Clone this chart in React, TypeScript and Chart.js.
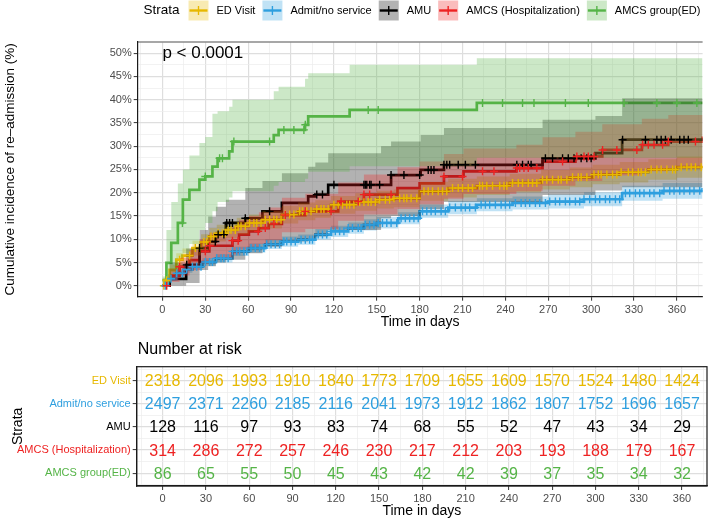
import { useEffect, useRef } from "react"
import { Chart, registerables } from "chart.js"
import type { Plugin } from "chart.js"

Chart.register(...registerables)

const FONT = "'Liberation Sans', Arial, Helvetica, sans-serif"

const strata = ["ED Visit", "Admit/no service", "AMU", "AMCS (Hospitalization)", "AMCS group(ED)"]
const strataColors = ["#E7B800", "#2E9FDF", "#000000", "#EE2222", "#55B447"]
const pValueText = "p < 0.0001"

// ED Visit
const edTimes = [0, 1.6, 5, 9.7, 14, 21, 27, 32.8, 38, 44.4, 52, 60.5, 70, 83.6, 95, 107, 118, 135, 150, 162, 180, 200, 220, 243, 265, 285, 301, 320, 340, 360, 378]
const edEst = [0, 1.2, 3.4, 5.6, 6.5, 8.1, 9.4, 10.6, 11.3, 12, 12.8, 13.5, 14.2, 15.3, 16, 16.5, 17.4, 18, 18.5, 18.8, 20.3, 21, 21.5, 22.1, 22.8, 23.3, 23.9, 24.4, 25, 25.5, 25.8]
const edLower = [0, 0.6, 2.3, 4.2, 5.0, 6.5, 7.7, 8.8, 9.5, 10.2, 11, 11.7, 12.3, 13.4, 14.1, 14.6, 15.5, 16.1, 16.6, 16.9, 18.3, 19, 19.5, 20.1, 20.7, 21.2, 21.8, 22.2, 22.8, 23.2, 23.5]
const edUpper = [0, 1.8, 4.5, 7.0, 8.0, 9.7, 11.1, 12.4, 13.1, 13.8, 14.6, 15.3, 16.1, 17.2, 17.9, 18.4, 19.3, 19.9, 20.4, 20.7, 22.3, 23, 23.5, 24.1, 24.9, 25.4, 26, 26.6, 27.2, 27.8, 28.1]
const edCensor = [1, 3, 12, 19, 23, 26, 29, 31, 34, 36, 39, 42, 44, 46, 48, 51, 53, 55, 58, 61, 64, 66, 69, 72, 75, 78, 80, 83, 86, 89, 92, 96, 98, 101, 104, 108, 111, 113, 116, 120, 123, 126, 129, 131, 134, 138, 141, 144, 146, 149, 152, 156, 159, 162, 166, 169, 171, 174, 178, 183, 186, 189, 193, 196, 199, 203, 207, 210, 214, 217, 222, 224, 227, 231, 236, 239, 241, 245, 249, 252, 256, 259, 262, 266, 269, 273, 277, 279, 283, 287, 291, 293, 297, 302, 305, 307, 311, 315, 318, 321, 326, 329, 333, 335, 338, 342, 346, 349, 353, 357, 359, 363, 367, 370, 373, 377]

// Admit/no service
const adTimes = [0, 4, 9.7, 15, 21, 28, 37.4, 49, 60.5, 72, 83.6, 95, 107, 118, 130, 141, 150, 165, 180, 200, 220, 245, 270, 295, 321.7, 350, 378]
const adEst = [0, 1.5, 2.7, 3.5, 4.1, 5.1, 5.9, 7.4, 8.1, 8.9, 9.5, 9.9, 11, 11.7, 12.4, 13.1, 13.5, 14.5, 16, 16.8, 17.4, 17.8, 18.1, 18.6, 19.9, 20.4, 21]
const adLower = [0, 1.0, 2.0, 2.8, 3.4, 4.3, 5.0, 6.4, 7.1, 7.9, 8.4, 8.8, 9.9, 10.5, 11.2, 11.9, 12.3, 13.2, 14.6, 15.4, 16, 16.4, 16.6, 17.1, 18.3, 18.7, 19.3]
const adUpper = [0, 2.0, 3.4, 4.3, 4.9, 5.9, 6.8, 8.4, 9.1, 10, 10.6, 11, 12.2, 12.9, 13.6, 14.3, 14.8, 15.8, 17.4, 18.2, 18.8, 19.2, 19.6, 20.1, 21.5, 22.1, 22.7]
const adCensor = [2, 6, 10, 14, 17, 21, 24, 27, 30, 33, 35, 38, 41, 43, 46, 49, 52, 54, 57, 59, 62, 65, 68, 71, 73, 76, 79, 82, 85, 87, 90, 93, 97, 100, 103, 105, 109, 112, 115, 118, 121, 124, 127, 130, 133, 137, 139, 142, 145, 148, 151, 154, 157, 160, 164, 167, 170, 173, 176, 179, 182, 185, 188, 191, 195, 198, 201, 205, 209, 212, 215, 219, 223, 226, 229, 233, 237, 240, 243, 247, 251, 254, 257, 261, 264, 268, 271, 275, 278, 282, 285, 289, 292, 295, 299, 303, 306, 310, 313, 317, 320, 324, 327, 331, 334, 337, 341, 344, 348, 351, 355, 358, 362, 365, 369, 372, 376]

// AMU
const amuTimes = [0, 5, 16.6, 26, 32, 37.4, 44.4, 58, 70, 83.6, 102, 107, 116, 153, 160, 180.7, 197, 266, 303, 321.7, 378]
const amuEst = [0, 1.5, 4.5, 8.1, 9.5, 11, 13.5, 14.5, 16, 17.8, 19.2, 19.6, 21.7, 21.7, 23.8, 24.9, 26, 27.4, 28.5, 31.4, 31.4]
const amuLower = [0, 0, 0.6, 3.4, 4.2, 5.0, 5.6, 7.0, 8.4, 9.5, 10.2, 10.6, 12, 14.5, 15, 16.5, 18, 19.5, 20.5, 21.2, 21.2]
const amuUpper = [0, 5, 8, 12, 14.9, 17, 18.5, 21, 22.5, 24.2, 25.6, 26.5, 28.5, 30, 31, 32.4, 33.9, 35.7, 36.5, 40.3, 40.3]
const amuCensor = [17, 26, 37, 39, 43, 45, 47, 49, 58, 75, 108, 112, 120, 141, 142, 143, 145, 146, 152, 160, 169, 180, 186, 188, 190, 197, 199, 201, 207, 212, 219, 248, 252, 256, 258, 268, 273, 280, 284, 288, 293, 297, 300, 322, 338, 346, 349, 352, 356, 362, 365, 368]

// AMCS (Hospitalization)
const hospTimes = [0, 5, 12, 19, 26, 32.8, 49, 53.6, 60.5, 67.5, 74.4, 83.6, 100, 123, 141, 164.5, 180, 197, 210.7, 247.7, 266, 289, 307.8, 335.5, 354, 378]
const hospEst = [0, 2.2, 4.1, 5.5, 7.4, 8.6, 9.7, 11, 11.7, 12.4, 13.3, 15.2, 16, 18.1, 19.6, 21, 22, 23.5, 24.6, 25.3, 26.7, 27.8, 29.2, 30.3, 31, 32.1]
const hospLower = [0, 0.8, 2.2, 3.3, 4.8, 5.8, 6.7, 7.8, 8.4, 9, 9.8, 11.5, 12.2, 14, 15.3, 16.5, 17.5, 18.7, 19.7, 20.3, 21.5, 22.5, 23.7, 24.6, 25.2, 26.1]
const hospUpper = [0, 3.6, 6.0, 7.7, 10, 11.4, 12.7, 14.2, 15, 15.8, 16.8, 18.9, 19.8, 22.2, 23.9, 25.5, 26.7, 28.3, 29.5, 30.3, 31.9, 33.1, 34.7, 35.9, 36.7, 37.9]
const hospCensor = [3, 12, 30, 33, 49, 53, 67, 72, 78, 86, 100, 118, 125, 137, 141, 145, 160, 197, 210, 224, 232, 248, 250, 253, 256, 262, 280, 290, 295, 298, 302, 308, 318, 332, 336, 340, 344, 350, 354, 373]

// AMCS group(ED)
const grpTimes = [0, 2.8, 6.2, 10.8, 14.3, 18.9, 25.9, 30, 35, 38.6, 46.7, 49, 77.9, 81.3, 99.8, 102, 131, 220, 378]
const grpEst = [1.2, 4.9, 9.2, 13.5, 18.5, 20.6, 22.8, 23.5, 25.6, 27.4, 28.9, 31, 32.4, 33.5, 34.6, 36.4, 37.8, 39.3, 39.3]
const grpLower = [0, 0.8, 3, 6, 7, 9, 12, 13.5, 16, 18, 19, 20.3, 21.5, 22.3, 23, 24.5, 25.7, 27.5, 27.5]
const grpUpper = [2, 12, 18, 22, 25, 28, 30.7, 32, 37, 37.5, 38.5, 40, 41.8, 42.8, 44.5, 45.7, 47.5, 48.9, 48.9]
const grpCensor = [14, 30, 40, 42, 50, 75, 85, 92, 99, 100, 144, 151, 224, 238, 252, 260, 282, 298, 323, 346, 360, 374]

// Number at risk table
const riskTimes = [0, 30, 60, 90, 120, 150, 180, 210, 240, 270, 300, 330, 360]
const riskED = [2318, 2096, 1993, 1910, 1840, 1773, 1709, 1655, 1609, 1570, 1524, 1480, 1424]
const riskAdmit = [2497, 2371, 2260, 2185, 2116, 2041, 1973, 1912, 1862, 1807, 1752, 1696, 1657]
const riskAMU = [128, 116, 97, 93, 83, 74, 68, 55, 52, 47, 43, 34, 29]
const riskHosp = [314, 286, 272, 257, 246, 230, 217, 212, 203, 193, 188, 179, 167]
const riskGroup = [86, 65, 55, 50, 45, 43, 42, 42, 39, 37, 35, 34, 32]

const curves = [
  { times: edTimes, est: edEst, lower: edLower, upper: edUpper, censor: edCensor },
  { times: adTimes, est: adEst, lower: adLower, upper: adUpper, censor: adCensor },
  { times: amuTimes, est: amuEst, lower: amuLower, upper: amuUpper, censor: amuCensor },
  { times: hospTimes, est: hospEst, lower: hospLower, upper: hospUpper, censor: hospCensor },
  { times: grpTimes, est: grpEst, lower: grpLower, upper: grpUpper, censor: grpCensor },
]
const riskRows = [riskED, riskAdmit, riskAMU, riskHosp, riskGroup]

function rgba(hex: string, a: number) {
  const n = parseInt(hex.slice(1), 16)
  return `rgba(${(n >> 16) & 255}, ${(n >> 8) & 255}, ${n & 255}, ${a})`
}

// KM estimate holding at time t (used to place censor marks on the curve)
function stepAt(times: number[], est: number[], t: number) {
  let v = est[0]
  for (let i = 0; i < times.length; i++) if (times[i] <= t) v = est[i]
  return v
}

const isMult = (v: number, step: number) => Math.abs(v / step - Math.round(v / step)) < 1e-6

const xGrid = (major: number) => ({
  color: (c: any) => (c.tick && isMult(c.tick.value, major) ? "#DEDEDE" : "#EDEDED"),
  lineWidth: (c: any) => (c.tick && isMult(c.tick.value, major) ? 1.2 : 0.7),
  tickColor: (c: any) => (c.tick && isMult(c.tick.value, major) ? "#333333" : "rgba(0,0,0,0)"),
  tickLength: 4,
  tickWidth: 1,
})

const topDecor: Plugin = {
  id: "topDecor",
  afterDatasetsDraw(chart) {
    const { ctx, chartArea, scales } = chart
    ctx.save()
    ctx.strokeStyle = "#8a8a8a"
    ctx.lineWidth = 1.4
    ctx.beginPath()
    ctx.moveTo(chartArea.left, chartArea.top)
    ctx.lineTo(chartArea.right, chartArea.top)
    ctx.stroke()
    ctx.fillStyle = "#000"
    ctx.font = `17px ${FONT}`
    ctx.textAlign = "left"
    ctx.textBaseline = "middle"
    ctx.fillText(pValueText, scales.x.getPixelForValue(0), scales.y.getPixelForValue(50))
    ctx.restore()
  },
  afterDraw(chart) {
    const { ctx } = chart
    const cy = 10.5
    ctx.save()
    ctx.textBaseline = "middle"
    ctx.textAlign = "left"
    ctx.fillStyle = "#000"
    ctx.font = `13.5px ${FONT}`
    ctx.fillText("Strata", 143.5, cy)
    ctx.font = `11px ${FONT}`
    let x = 188.5
    strata.forEach((name, g) => {
      ctx.fillStyle = rgba(strataColors[g], 0.3)
      ctx.fillRect(x, 0.5, 20, 20)
      ctx.strokeStyle = strataColors[g]
      ctx.lineWidth = 2.4
      ctx.beginPath()
      ctx.moveTo(x + 1, cy)
      ctx.lineTo(x + 19, cy)
      ctx.stroke()
      ctx.lineWidth = 1.4
      ctx.beginPath()
      ctx.moveTo(x + 10, cy - 4.5)
      ctx.lineTo(x + 10, cy + 4.5)
      ctx.stroke()
      ctx.fillStyle = "#000"
      ctx.fillText(name, x + 28, cy)
      x += 28 + ctx.measureText(name).width + 7
    })
    ctx.restore()
  },
}

function CurveChart() {
  const chartRef = useRef<HTMLCanvasElement>(null)
  const chartInstance = useRef<Chart | null>(null)

  useEffect(() => {
    if (!chartRef.current) return
    if (chartInstance.current) chartInstance.current.destroy()

    const datasets: any[] = []
    // step lines first, ribbons over them, censor marks on top
    curves.forEach((c, g) => {
      datasets.push({
        type: "line",
        data: c.times.map((t, i) => ({ x: t, y: c.est[i] })),
        stepped: "before",
        borderColor: strataColors[g],
        borderWidth: 2.7,
        pointRadius: 0,
        fill: false,
        order: 40,
      })
    })
    curves.forEach((c, g) => {
      datasets.push({
        type: "line",
        data: c.times.map((t, i) => ({ x: t, y: c.lower[i] })),
        stepped: "before",
        borderColor: "rgba(0,0,0,0)",
        borderWidth: 0,
        pointRadius: 0,
        fill: false,
        order: 30 - g,
      })
      datasets.push({
        type: "line",
        data: c.times.map((t, i) => ({ x: t, y: c.upper[i] })),
        stepped: "before",
        borderColor: "rgba(0,0,0,0)",
        borderWidth: 0,
        pointRadius: 0,
        fill: "-1",
        backgroundColor: rgba(strataColors[g], 0.3),
        order: 30 - g,
      })
    })
    curves.forEach((c, g) => {
      datasets.push({
        type: "scatter",
        data: c.censor.map((t) => ({ x: t, y: stepAt(c.times, c.est, t) })),
        showLine: false,
        pointStyle: "cross",
        pointRadius: 4,
        borderWidth: 1.4,
        borderColor: strataColors[g],
        backgroundColor: strataColors[g],
        order: 10 - g,
      })
    })

    chartInstance.current = new Chart(chartRef.current, {
      type: "line",
      data: { datasets },
      options: {
        responsive: false,
        animation: false,
        events: [],
        layout: { padding: { top: 42, left: 0, right: 0, bottom: 0 } },
        plugins: { legend: { display: false }, tooltip: { enabled: false } },
        scales: {
          x: {
            type: "linear",
            min: -17.3,
            max: 378,
            ticks: {
              stepSize: 15,
              includeBounds: false,
              autoSkip: false,
              maxRotation: 0,
              padding: 3,
              color: "#4D4D4D",
              font: { family: FONT, size: 11 },
              callback: (v: any) => (isMult(Number(v), 30) ? String(v) : ""),
            },
            grid: xGrid(30),
            border: { display: true, color: "#1A1A1A", width: 1.2, z: 1 },
            title: {
              display: true,
              text: "Time in days",
              color: "#000",
              font: { family: FONT, size: 14 },
              padding: { top: 0, bottom: 4 },
            },
            afterFit: (s: any) => {
              s.height = 38.3
            },
          },
          y: {
            type: "linear",
            min: -2.35,
            max: 52.4,
            ticks: {
              stepSize: 2.5,
              includeBounds: false,
              autoSkip: false,
              padding: 2,
              color: "#4D4D4D",
              font: { family: FONT, size: 11 },
              callback: (v: any) => (isMult(Number(v), 5) ? `${v}%` : ""),
            },
            grid: xGrid(5),
            border: { display: true, color: "#1A1A1A", width: 1.2, z: 1 },
            title: {
              display: true,
              text: "Cumulative incidence of re\u2013admission (%)",
              color: "#000",
              font: { family: FONT, size: 13.5 },
              padding: { top: 2, bottom: 0 },
            },
            afterFit: (s: any) => {
              s.width = 137.7
            },
          },
        },
      },
      plugins: [topDecor],
    })

    return () => {
      if (chartInstance.current) {
        chartInstance.current.destroy()
        chartInstance.current = null
      }
    }
  }, [])

  return <canvas ref={chartRef} width={708} height={335} style={{ display: "block" }} />
}

const tableDecor: Plugin = {
  id: "tableDecor",
  afterDatasetsDraw(chart) {
    const { ctx, chartArea } = chart
    ctx.save()
    ctx.font = `16px ${FONT}`
    ctx.textAlign = "center"
    ctx.textBaseline = "middle"
    chart.data.datasets.forEach((_, r) => {
      const meta = chart.getDatasetMeta(r)
      ctx.fillStyle = strataColors[r]
      meta.data.forEach((el: any, j: number) => {
        ctx.fillText(String(riskRows[r][j]), el.x, el.y + 1)
      })
    })
    ctx.strokeStyle = "#1A1A1A"
    ctx.lineWidth = 1.2
    ctx.strokeRect(chartArea.left, chartArea.top, chartArea.right - chartArea.left, chartArea.bottom - chartArea.top)
    ctx.fillStyle = "#000"
    ctx.textAlign = "left"
    ctx.fillText("Number at risk", chartArea.left + 1, 15)
    ctx.restore()
  },
}

function RiskTable() {
  const chartRef = useRef<HTMLCanvasElement>(null)
  const chartInstance = useRef<Chart | null>(null)

  useEffect(() => {
    if (!chartRef.current) return
    if (chartInstance.current) chartInstance.current.destroy()

    const datasets = riskRows.map((_, r) => ({
      data: riskTimes.map((t) => ({ x: t, y: r })),
      pointRadius: 0,
      showLine: false,
    }))

    chartInstance.current = new Chart(chartRef.current, {
      type: "scatter",
      data: { datasets },
      options: {
        responsive: false,
        animation: false,
        events: [],
        layout: { padding: { top: 31.7, left: 0, right: 1, bottom: 0 } },
        plugins: { legend: { display: false }, tooltip: { enabled: false } },
        scales: {
          x: {
            type: "linear",
            min: -18,
            max: 377.3,
            ticks: {
              stepSize: 15,
              includeBounds: false,
              autoSkip: false,
              maxRotation: 0,
              padding: 2,
              color: "#4D4D4D",
              font: { family: FONT, size: 11 },
              callback: (v: any) => (isMult(Number(v), 30) ? String(v) : ""),
            },
            grid: xGrid(30),
            border: { display: true, color: "#1A1A1A", width: 1.2 },
            title: {
              display: true,
              text: "Time in days",
              color: "#000",
              font: { family: FONT, size: 14 },
              padding: { top: 0, bottom: 0 },
            },
            afterFit: (s: any) => {
              s.height = 34
            },
          },
          y: {
            type: "linear",
            reverse: true,
            min: -0.6,
            max: 4.55,
            ticks: {
              stepSize: 0.5,
              includeBounds: false,
              autoSkip: false,
              padding: 2,
              font: { family: FONT, size: 11 },
              color: (c: any) =>
                c.tick && isMult(c.tick.value, 1) ? strataColors[Math.round(c.tick.value)] : "rgba(0,0,0,0)",
              callback: (v: any) => (isMult(Number(v), 1) ? strata[Math.round(Number(v))] : ""),
            },
            grid: xGrid(1),
            border: { display: true, color: "#1A1A1A", width: 1.2 },
            title: {
              display: true,
              text: "Strata",
              color: "#000",
              font: { family: FONT, size: 14 },
              padding: { top: 9.6, bottom: 0 },
            },
            afterFit: (s: any) => {
              s.width = 136.7
            },
          },
        },
      },
      plugins: [tableDecor],
    })

    return () => {
      if (chartInstance.current) {
        chartInstance.current.destroy()
        chartInstance.current = null
      }
    }
  }, [])

  return <canvas ref={chartRef} width={708} height={185} style={{ display: "block" }} />
}

export default function App() {
  return (
    <div style={{ position: "absolute", left: 0, top: 0, width: 708, height: 520, background: "#fff" }}>
      <CurveChart />
      <RiskTable />
    </div>
  )
}
